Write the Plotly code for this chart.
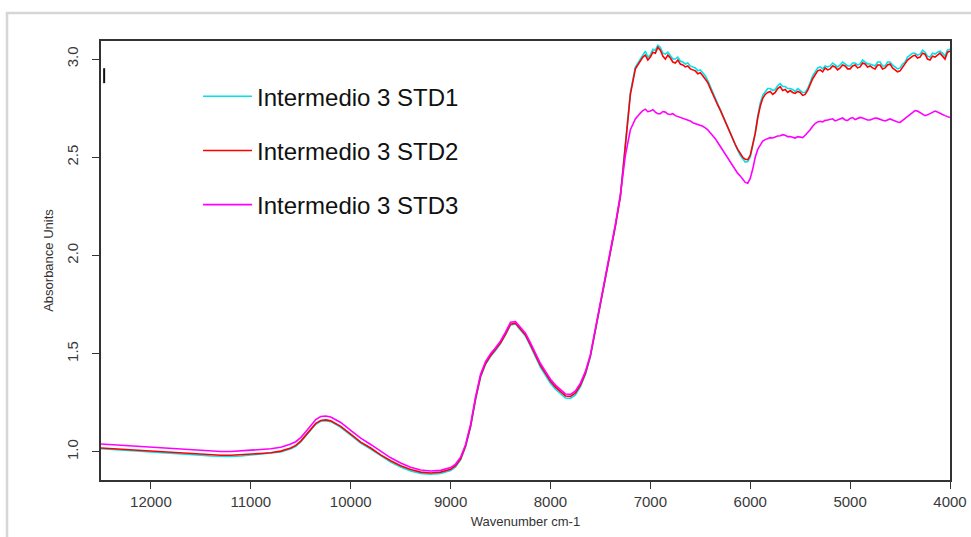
import plotly.graph_objects as go

# Wavenumber axis (cm-1): coarse steps over the smooth overtone region,
# finer steps over the noisy high-absorbance region.
wavenumber = [
    12500, 12400, 12300, 12200, 12100, 12000, 11900, 11800, 11700, 11600,
    11500, 11400, 11300, 11200, 11100, 11000, 10900, 10800, 10700, 10600,
    10550, 10500, 10450, 10400, 10350, 10300, 10250, 10200,
    10100, 10000, 9900, 9800, 9700, 9600, 9500, 9400, 9300, 9200, 9100, 9000,
    8950, 8900, 8850, 8800, 8750, 8700, 8650, 8600, 8550, 8500,
    8450, 8400, 8350, 8300, 8250, 8200, 8150, 8100, 8050, 8000,
    7950, 7900, 7850, 7800, 7750, 7700, 7650, 7600, 7550, 7500,
    7450, 7400, 7350, 7300, 7250, 7200, 7150,
    7100, 7075, 7050, 7025, 7000, 6975, 6950, 6925, 6900, 6875,
    6850, 6825, 6800, 6775, 6750, 6725, 6700, 6675, 6650, 6625,
    6600, 6575, 6550, 6525, 6500, 6475, 6450, 6425, 6400, 6375,
    6350, 6325, 6300, 6275, 6250, 6225, 6200, 6175, 6150, 6125,
    6100, 6075, 6050, 6025, 6000, 5975, 5950, 5925, 5900, 5875,
    5850, 5825, 5800, 5775, 5750, 5725, 5700, 5675, 5650, 5625,
    5600, 5575, 5550, 5525, 5500, 5475, 5450, 5425, 5400, 5375,
    5350, 5325, 5300, 5275, 5250, 5225, 5200, 5175, 5150, 5125,
    5100, 5075, 5050, 5025, 5000, 4975, 4950, 4925, 4900, 4875,
    4850, 4825, 4800, 4775, 4750, 4725, 4700, 4675, 4650, 4625,
    4600, 4575, 4550, 4525, 4500, 4475, 4450, 4425, 4400, 4375,
    4350, 4325, 4300, 4275, 4250, 4225, 4200, 4175, 4150, 4125,
    4100, 4075, 4050, 4025, 4000,
]

std1 = [
    1.016, 1.013, 1.010, 1.006, 1.003, 1.000, 0.998, 0.995, 0.991, 0.987,
    0.983, 0.979, 0.977, 0.977, 0.979, 0.984, 0.988, 0.992, 1.000, 1.016,
    1.029, 1.051, 1.081, 1.114, 1.141, 1.156, 1.159, 1.154,
    1.125, 1.085, 1.045, 1.014, 0.979, 0.948, 0.923, 0.903, 0.890, 0.886, 0.890, 0.905,
    0.924, 0.960, 1.026, 1.126, 1.266, 1.381, 1.446, 1.486, 1.516, 1.551,
    1.596, 1.646, 1.651, 1.620, 1.589, 1.538, 1.482, 1.431, 1.390, 1.350,
    1.319, 1.294, 1.274, 1.272, 1.290, 1.332, 1.394, 1.485, 1.615, 1.745,
    1.875, 2.018, 2.150, 2.305, 2.555, 2.830, 2.960,
    3.000, 3.025, 3.040, 3.010, 3.020, 3.050, 3.045, 3.070, 3.060, 3.030,
    3.025, 3.035, 3.020, 3.000, 3.000, 3.010, 2.990, 2.985, 2.975, 2.980,
    2.965, 2.960, 2.955, 2.940, 2.945, 2.930, 2.915, 2.890, 2.860, 2.830,
    2.800, 2.770, 2.745, 2.715, 2.685, 2.650, 2.620, 2.590, 2.560, 2.535,
    2.510, 2.490, 2.475, 2.478, 2.500, 2.560, 2.625, 2.710, 2.775, 2.815,
    2.835, 2.850, 2.850, 2.840, 2.845, 2.865, 2.875, 2.860, 2.860, 2.850,
    2.850, 2.845, 2.835, 2.850, 2.840, 2.830, 2.830, 2.850, 2.880, 2.915,
    2.935, 2.955, 2.960, 2.950, 2.965, 2.960, 2.965, 2.980, 2.970, 2.960,
    2.970, 2.985, 2.975, 2.965, 2.965, 2.980, 2.980, 2.970, 2.975, 2.995,
    2.985, 2.975, 2.975, 2.970, 2.965, 2.985, 2.985, 2.965, 2.965, 2.985,
    2.985, 2.970, 2.960, 2.950, 2.955, 2.975, 2.985, 3.010, 3.020, 3.030,
    3.030, 3.020, 3.025, 3.045, 3.035, 3.015, 3.010, 3.030, 3.025, 3.035,
    3.040, 3.030, 3.015, 3.045, 3.050,
]

std2 = [
    1.020, 1.017, 1.014, 1.011, 1.008, 1.005, 1.003, 1.000, 0.997, 0.993,
    0.989, 0.985, 0.983, 0.983, 0.985, 0.989, 0.992, 0.996, 1.004, 1.020,
    1.033, 1.055, 1.085, 1.118, 1.145, 1.160, 1.163, 1.158,
    1.130, 1.090, 1.050, 1.020, 0.985, 0.955, 0.930, 0.910, 0.897, 0.893, 0.897, 0.912,
    0.930, 0.965, 1.030, 1.130, 1.270, 1.385, 1.450, 1.490, 1.520, 1.555,
    1.600, 1.650, 1.655, 1.625, 1.595, 1.545, 1.490, 1.440, 1.400, 1.360,
    1.330, 1.305, 1.285, 1.283, 1.300, 1.340, 1.400, 1.490, 1.620, 1.750,
    1.880, 2.020, 2.150, 2.300, 2.560, 2.820, 2.950,
    2.990, 3.010, 3.020, 2.995, 3.010, 3.035, 3.030, 3.060, 3.045, 3.015,
    3.000, 3.020, 3.005, 2.985, 2.980, 2.995, 2.975, 2.970, 2.960, 2.965,
    2.950, 2.945, 2.940, 2.925, 2.930, 2.915, 2.900, 2.880, 2.850, 2.820,
    2.790, 2.765, 2.740, 2.710, 2.680, 2.650, 2.620, 2.590, 2.565, 2.540,
    2.520, 2.500, 2.490, 2.488, 2.510, 2.560, 2.620, 2.700, 2.760, 2.800,
    2.820, 2.830, 2.835, 2.820, 2.830, 2.850, 2.860, 2.840, 2.845, 2.830,
    2.840, 2.830, 2.825, 2.835, 2.830, 2.815, 2.820, 2.840, 2.870, 2.900,
    2.920, 2.940, 2.945, 2.935, 2.955, 2.945, 2.950, 2.965, 2.960, 2.945,
    2.955, 2.970, 2.965, 2.950, 2.950, 2.965, 2.970, 2.955, 2.960, 2.980,
    2.975, 2.960, 2.965, 2.955, 2.950, 2.970, 2.970, 2.950, 2.955, 2.970,
    2.975, 2.955, 2.945, 2.935, 2.940, 2.960, 2.975, 2.995, 3.005, 3.015,
    3.020, 3.005, 3.010, 3.030, 3.025, 3.000, 2.995, 3.015, 3.010, 3.020,
    3.030, 3.015, 3.000, 3.035, 3.040,
]

std3 = [
    1.040, 1.037, 1.034, 1.031, 1.028, 1.025, 1.022, 1.019, 1.016, 1.012,
    1.008, 1.004, 1.002, 1.002, 1.004, 1.009, 1.012, 1.016, 1.024, 1.040,
    1.052, 1.073, 1.103, 1.137, 1.165, 1.180, 1.183, 1.178,
    1.150, 1.110, 1.070, 1.038, 1.002, 0.970, 0.944, 0.922, 0.908, 0.903, 0.906, 0.920,
    0.938, 0.973, 1.038, 1.140, 1.280, 1.395, 1.460, 1.500, 1.530, 1.565,
    1.610, 1.660, 1.663, 1.635, 1.605, 1.555, 1.500, 1.450, 1.410, 1.370,
    1.340, 1.315, 1.295, 1.293, 1.310, 1.350, 1.410, 1.495, 1.625, 1.755,
    1.885, 2.025, 2.160, 2.310, 2.510, 2.640, 2.695,
    2.725, 2.738, 2.745, 2.732, 2.735, 2.742, 2.730, 2.722, 2.722, 2.733,
    2.730, 2.720, 2.718, 2.722, 2.712, 2.708, 2.705, 2.700, 2.695, 2.690,
    2.685, 2.676, 2.672, 2.668, 2.665, 2.658, 2.650, 2.640, 2.625, 2.612,
    2.595, 2.575, 2.555, 2.535, 2.515, 2.495, 2.475, 2.455, 2.435, 2.418,
    2.405, 2.388, 2.372, 2.368, 2.392, 2.440, 2.500, 2.540, 2.565, 2.582,
    2.590, 2.596, 2.600, 2.598, 2.605, 2.608, 2.610, 2.615, 2.612, 2.605,
    2.606, 2.600, 2.598, 2.605, 2.603, 2.600, 2.612, 2.625, 2.640, 2.658,
    2.672, 2.680, 2.683, 2.680, 2.688, 2.690, 2.692, 2.696, 2.685, 2.690,
    2.695, 2.700, 2.690, 2.688, 2.698, 2.702, 2.692, 2.696, 2.703, 2.700,
    2.695, 2.690, 2.690, 2.696, 2.700, 2.698, 2.692, 2.688, 2.685, 2.690,
    2.695, 2.690, 2.683, 2.680, 2.678, 2.688, 2.698, 2.710, 2.720, 2.730,
    2.738, 2.735, 2.728, 2.720, 2.712, 2.716, 2.722, 2.728, 2.735, 2.730,
    2.722, 2.718, 2.712, 2.706, 2.702,
]

series_names = ["Intermedio 3 STD1", "Intermedio 3 STD2", "Intermedio 3 STD3"]
series_values = [std1, std2, std3]
series_colors = ["#00e3ea", "#ff0000", "#ff00ff"]

x_ticks = [12000, 11000, 10000, 9000, 8000, 7000, 6000, 5000, 4000]
y_ticks = [1.0, 1.5, 2.0, 2.5, 3.0]

for vals in series_values:
    assert len(vals) == len(wavenumber), (len(vals), len(wavenumber))

fig = go.Figure()
for i, (name, vals, col) in enumerate(zip(series_names, series_values, series_colors)):
    fig.add_trace(go.Scatter(
        x=wavenumber, y=vals, mode="lines", name=name,
        legendgroup=f"g{i}",
        line=dict(color=col, width=1.6),
    ))

axis_common = dict(
    showgrid=False, zeroline=False, showline=True, mirror=True,
    linecolor="#333333", linewidth=1.5,
    ticks="outside", ticklen=7, tickwidth=1.3, tickcolor="#333333",
    tickfont=dict(family="Liberation Sans, Arial, sans-serif", size=15, color="#3a3a3a"),
)

fig.update_layout(
    width=971, height=537,
    margin=dict(l=101, r=21, t=41, b=57, autoexpand=False),
    paper_bgcolor="white", plot_bgcolor="white",
    font=dict(family="Liberation Sans, Arial, sans-serif", color="#333333"),
    xaxis=dict(
        range=[12500, 4000], tickvals=x_ticks, tickformat="d",
        title=dict(text="Wavenumber cm-1", font=dict(size=13, color="#333333"), standoff=8),
        **axis_common,
    ),
    yaxis=dict(
        range=[0.857, 3.092], tickvals=y_ticks, tickformat=".1f", tickangle=-90,
        ticklabelstandoff=8,
        title=dict(text="Absorbance Units", font=dict(size=13, color="#333333"), standoff=8),
        **axis_common,
    ),
    legend=dict(
        x=0.1143, y=0.9245, xanchor="left", yanchor="top",
        bgcolor="rgba(0,0,0,0)", borderwidth=0,
        font=dict(size=24, color="#111111"),
        itemwidth=49,
        traceorder="grouped", tracegroupgap=20,
    ),
    showlegend=True,
    shapes=[
        # light grey frame around the figure (top and left edges visible)
        dict(type="rect", xref="paper", yref="paper",
             x0=-0.1107, y0=-0.4, x1=1.3, y1=1.0638,
             line=dict(color="#d6d6d6", width=2.5), layer="below"),
        # short cursor mark near the upper-left corner of the plot
        dict(type="line", xref="paper", yref="paper",
             x0=0.0037, x1=0.0037, y0=0.904, y1=0.938,
             line=dict(color="#111111", width=2)),
    ],
)

fig.write_html("out.html")
